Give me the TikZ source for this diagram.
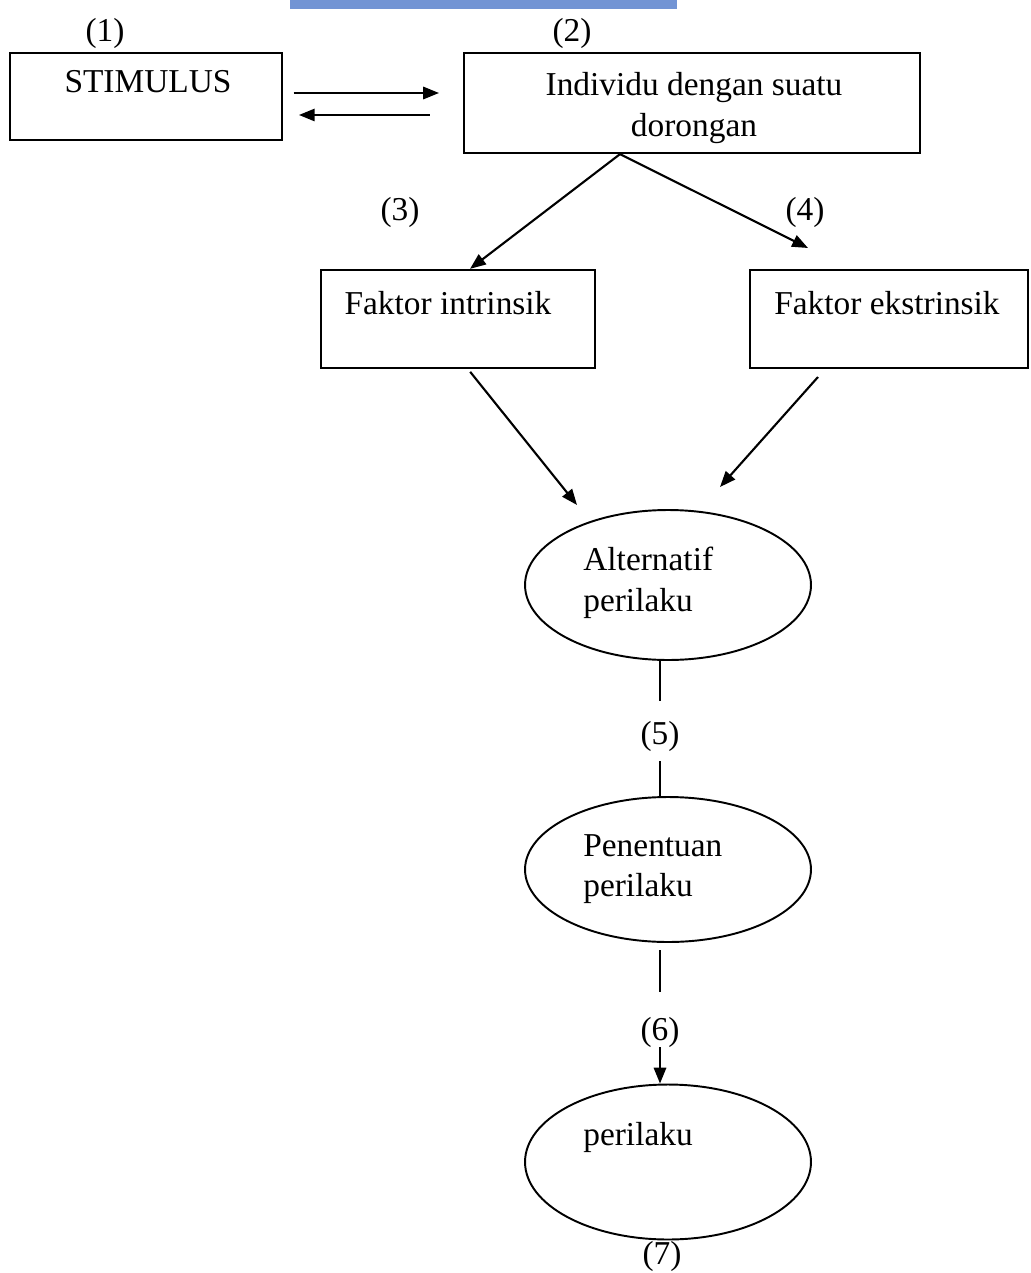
\documentclass[tikz,border=0pt]{standalone}
\usepackage{fontspec}
\setmainfont{Liberation Serif}
\usetikzlibrary{arrows.meta,shapes.geometric}
\definecolor{barblue}{RGB}{114,148,212}
\begin{document}
\begin{tikzpicture}[x=0.02cm,y=-0.02cm,
  box/.style={draw, line width=1.3pt, rectangle, inner sep=0pt},
  oval/.style={draw, line width=1.1pt, ellipse, inner sep=0pt},
  txt/.style={font=\fontsize{19}{23}\selectfont, inner sep=0pt},
  num/.style={font=\fontsize{19}{23}\selectfont, inner sep=0pt},
  arr/.style={line width=1.2pt, -{Triangle[length=9pt,width=7pt]}},
  ln/.style={line width=1.2pt}]
\useasboundingbox (0,0) rectangle (1030,1273);
\fill[barblue] (290,0) rectangle (677,9);

% boxes
\node[box, minimum width=5.44cm, minimum height=1.74cm] (stim) at (146,96.5) {};
\node[box, minimum width=9.12cm, minimum height=2cm] (indiv) at (692,103) {};
\node[box, minimum width=5.48cm, minimum height=1.96cm] (fi) at (458,319) {};
\node[box, minimum width=5.56cm, minimum height=1.96cm] (fe) at (889,319) {};

% ellipses
\node[oval, minimum width=5.72cm, minimum height=3cm] (alt) at (668,585) {};
\node[oval, minimum width=5.72cm, minimum height=2.9cm] (pen) at (668,869.5) {};
\node[oval, minimum width=5.72cm, minimum height=3.1cm] (per) at (668,1162) {};

% texts
\node[txt] (tstim) at (148,82) {STIMULUS};
\node[txt, align=center] (tindiv) at (694,108) {Individu dengan suatu\\dorongan};
\node[txt] (tfi) at (448,303) {Faktor intrinsik};
\node[txt] (tfe) at (887,303) {Faktor ekstrinsik};
\node[txt, align=left, anchor=west] (talt) at (583,583) {Alternatif\\perilaku};
\node[txt, align=left, anchor=west] (tpen) at (583,869) {Penentuan\\perilaku};
\node[txt, anchor=west] (tper) at (583,1137) {perilaku};

% numbers
\node[num] (n1) at (105,33) {(1)};
\node[num] (n2) at (572,33) {(2)};
\node[num] (n3) at (400,212) {(3)};
\node[num] (n4) at (805,212) {(4)};
\node[num] (n5) at (660,736) {(5)};
\node[num] (n6) at (660,1032) {(6)};
\node[num, anchor=south] (n7) at (662,1272) {(7)};

% free ends
\coordinate (e4) at (808,248);
\coordinate (e5) at (577,505);
\coordinate (e6) at (720,487);

% connectors
\draw[arr, shorten <=6pt, shorten >=13.6pt] (stim.east |- 0,93) -- (indiv.west |- 0,93);
\draw[arr, shorten <=19pt, shorten >=9pt] (indiv.west |- 0,115) -- (stim.east |- 0,115);
\draw[arr] (indiv.south -| 620,0) -- (fi.north -| 470,0);
\draw[arr] (indiv.south -| 620,0) -- (e4);
\draw[arr, shorten <=2pt] (fi.south -| 468,0) -- (e5);
\draw[arr, shorten <=6pt] (fe.south -| 825,0) -- (e6);
\draw[ln] (alt.south -| n5) -- ([yshift=0.4cm]n5.north);
\draw[ln] ([yshift=-0.2cm]n5.south) -- (pen.north -| n5);
\draw[ln] ([yshift=-0.15cm]pen.south -| n6) -- ([yshift=0.5cm]n6.north);
\draw[arr] (n6.south) -- (per.north -| n6);
\end{tikzpicture}
\end{document}
